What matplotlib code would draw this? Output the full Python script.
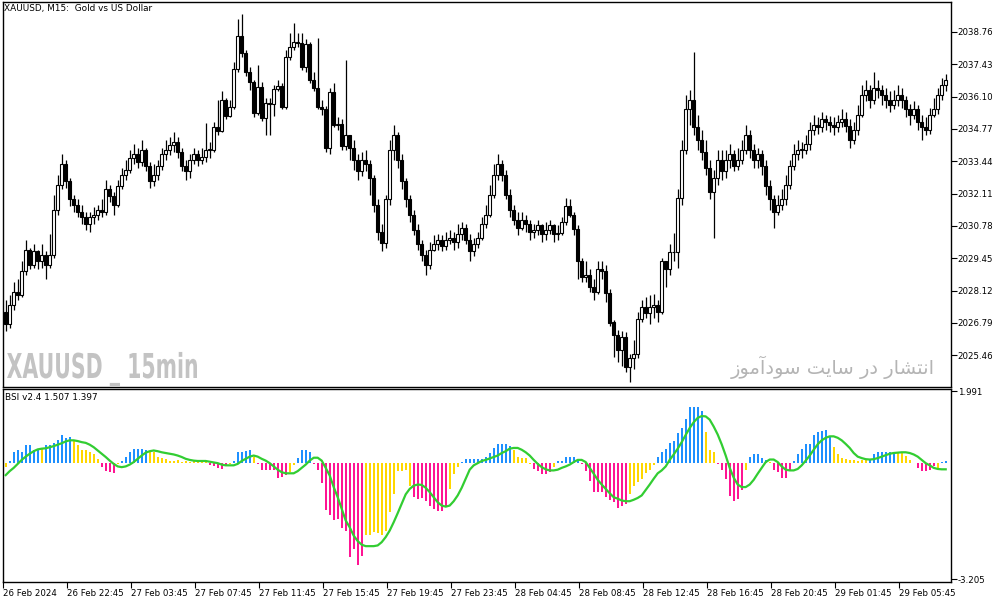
import matplotlib
matplotlib.use('Agg')
import matplotlib.pyplot as plt
from matplotlib.patches import Rectangle, PathPatch
from matplotlib.textpath import TextPath
from matplotlib.font_manager import FontProperties
from matplotlib.transforms import Affine2D, IdentityTransform

# ---- price data (XAUUSD M15), 236 candles ----
opens = [
    2027.26, 2026.73, 2027.55, 2028.08, 2027.96, 2028.91, 2029.81, 2029.19, 2029.73, 2029.32,
    2029.60, 2029.19, 2029.60, 2031.45, 2032.48, 2033.31, 2032.61, 2031.87, 2031.66, 2031.37,
    2031.13, 2030.88, 2031.13, 2031.25, 2031.45, 2031.37, 2032.28, 2032.03, 2031.66, 2032.44,
    2032.89, 2033.10, 2033.59, 2033.72, 2033.43, 2033.92, 2033.26, 2032.61, 2032.89, 2033.26,
    2033.72, 2033.92, 2034.09, 2034.25, 2033.84, 2033.26, 2033.02, 2033.51, 2033.72, 2033.51,
    2033.63, 2033.92, 2033.92, 2034.83, 2034.70, 2035.98, 2035.32, 2035.69, 2037.25, 2038.61,
    2037.91, 2037.13, 2036.68, 2035.44, 2036.51, 2035.20, 2035.85, 2035.81, 2036.43, 2036.55,
    2035.69, 2037.71, 2038.12, 2038.36, 2038.32, 2037.33, 2038.28, 2036.80, 2036.47, 2035.69,
    2035.57, 2034.00, 2036.27, 2034.95, 2034.99, 2034.05, 2034.50, 2034.00, 2033.51, 2033.02,
    2033.51, 2033.31, 2032.77, 2031.66, 2030.55, 2030.06, 2031.87, 2033.92, 2034.54, 2033.51,
    2032.61, 2031.87, 2031.25, 2030.63, 2030.02, 2029.60, 2029.19, 2029.81, 2030.02, 2030.22,
    2029.97, 2030.22, 2030.30, 2030.10, 2030.43, 2030.71, 2030.22, 2029.73, 2030.02, 2030.30,
    2030.84, 2031.25, 2032.07, 2032.89, 2033.31, 2032.89, 2032.07, 2031.45, 2031.04, 2030.71,
    2031.04, 2030.84, 2030.55, 2030.63, 2030.80, 2030.43, 2030.63, 2030.80, 2030.43, 2030.47,
    2030.96, 2031.62, 2031.25, 2030.67, 2029.32, 2028.70, 2028.78, 2028.29, 2028.08, 2028.99,
    2028.91, 2028.04, 2026.81, 2026.31, 2025.66, 2026.23, 2024.96, 2025.37, 2025.53, 2026.97,
    2027.43, 2027.22, 2027.43, 2027.55, 2027.26, 2029.32, 2028.99, 2029.69, 2029.69, 2031.95,
    2033.92, 2035.57, 2035.98, 2034.83, 2034.33, 2033.84, 2033.18, 2032.19, 2032.77, 2033.51,
    2033.02, 2033.51, 2033.72, 2033.26, 2033.51, 2033.92, 2034.54, 2033.92, 2033.51, 2033.72,
    2033.26, 2032.44, 2031.87, 2031.37, 2031.66, 2031.87, 2032.48, 2033.26, 2033.72, 2033.92,
    2033.92, 2034.13, 2034.74, 2034.95, 2034.83, 2035.16, 2035.07, 2034.95, 2034.83, 2035.07,
    2035.16, 2034.91, 2034.33, 2034.74, 2035.36, 2036.18, 2036.39, 2035.98, 2036.47, 2036.39,
    2036.18, 2035.98, 2035.77, 2035.98, 2036.18, 2035.98, 2035.57, 2035.36, 2035.57, 2035.07,
    2034.83, 2034.74, 2035.36, 2035.57, 2036.18, 2036.59,
]
highs = [
    2027.75, 2027.96, 2028.49, 2028.58, 2029.32, 2030.22, 2029.89, 2030.02, 2029.81, 2030.02,
    2029.73, 2030.43, 2032.07, 2032.89, 2033.72, 2033.51, 2032.77, 2032.07, 2031.87, 2031.66,
    2031.37, 2031.37, 2031.54, 2031.66, 2031.87, 2032.69, 2032.48, 2032.19, 2032.69, 2033.18,
    2033.51, 2033.92, 2034.13, 2034.00, 2034.33, 2034.00, 2033.43, 2033.31, 2033.51, 2034.00,
    2034.33, 2034.42, 2034.66, 2034.42, 2034.00, 2033.51, 2033.72, 2034.00, 2033.92, 2034.00,
    2035.03, 2034.25, 2035.07, 2035.98, 2036.31, 2036.06, 2035.98, 2037.54, 2039.27, 2039.51,
    2038.03, 2037.33, 2036.80, 2037.38, 2036.72, 2036.06, 2036.06, 2036.59, 2036.80, 2036.64,
    2038.03, 2038.73, 2039.14, 2038.73, 2038.73, 2038.45, 2038.36, 2037.13, 2038.49, 2035.98,
    2035.73, 2036.47, 2036.64, 2035.24, 2035.16, 2037.62, 2034.54, 2034.33, 2033.72, 2033.84,
    2033.92, 2033.51, 2032.89, 2031.87, 2030.84, 2032.07, 2034.33, 2034.95, 2034.66, 2033.72,
    2032.77, 2032.07, 2031.45, 2030.84, 2030.22, 2029.81, 2030.14, 2030.39, 2030.43, 2030.39,
    2030.55, 2030.63, 2030.55, 2030.84, 2030.96, 2030.84, 2030.43, 2030.30, 2030.55, 2031.13,
    2031.66, 2032.48, 2033.31, 2033.72, 2033.51, 2033.10, 2032.28, 2031.66, 2031.37, 2031.37,
    2031.25, 2031.04, 2030.88, 2031.04, 2030.88, 2030.96, 2031.04, 2030.84, 2030.80, 2031.13,
    2031.95, 2031.87, 2031.37, 2030.80, 2029.48, 2029.32, 2028.99, 2028.58, 2029.32, 2029.32,
    2029.19, 2028.17, 2026.93, 2026.52, 2026.44, 2026.40, 2025.53, 2026.11, 2027.26, 2027.75,
    2027.84, 2027.96, 2028.00, 2027.75, 2029.48, 2029.32, 2030.02, 2030.51, 2032.28, 2034.33,
    2036.18, 2036.39, 2037.95, 2035.36, 2034.74, 2034.33, 2033.51, 2033.10, 2033.92, 2033.92,
    2033.92, 2034.13, 2033.92, 2034.00, 2034.33, 2034.95, 2034.74, 2034.13, 2034.00, 2033.92,
    2033.51, 2032.69, 2032.07, 2032.07, 2032.28, 2032.89, 2033.51, 2034.13, 2034.33, 2034.25,
    2034.54, 2035.07, 2035.36, 2035.24, 2035.48, 2035.36, 2035.32, 2035.24, 2035.36, 2035.57,
    2035.48, 2035.16, 2035.07, 2035.77, 2036.59, 2036.80, 2036.59, 2037.13, 2036.80, 2036.59,
    2036.47, 2036.31, 2036.39, 2036.59, 2036.47, 2036.14, 2035.81, 2035.90, 2035.77, 2035.36,
    2035.24, 2035.65, 2036.06, 2036.47, 2036.88, 2037.01,
]
lows = [
    2026.44, 2026.60, 2027.34, 2027.75, 2027.84, 2028.78, 2028.99, 2029.07, 2028.99, 2029.07,
    2028.58, 2029.07, 2029.48, 2031.25, 2032.28, 2032.36, 2031.62, 2031.37, 2031.13, 2030.84,
    2030.63, 2030.55, 2030.88, 2031.04, 2031.13, 2031.25, 2031.78, 2031.25, 2031.54, 2032.28,
    2032.69, 2032.94, 2033.31, 2033.18, 2033.26, 2033.02, 2032.36, 2032.44, 2032.69, 2033.10,
    2033.51, 2033.68, 2033.84, 2033.59, 2033.02, 2032.69, 2032.77, 2033.31, 2033.26, 2033.31,
    2033.43, 2033.59, 2033.84, 2034.54, 2034.66, 2035.16, 2035.24, 2035.57, 2037.13, 2037.71,
    2036.96, 2036.39, 2035.28, 2035.36, 2035.11, 2034.50, 2034.54, 2035.32, 2036.31, 2035.57,
    2035.57, 2037.62, 2038.03, 2038.12, 2037.21, 2037.13, 2036.64, 2036.31, 2035.57, 2035.36,
    2033.84, 2033.72, 2034.83, 2034.74, 2033.92, 2033.92, 2033.51, 2033.10, 2032.69, 2032.85,
    2033.02, 2032.07, 2031.37, 2030.22, 2029.73, 2029.89, 2031.66, 2033.51, 2033.18, 2032.28,
    2031.54, 2030.96, 2030.39, 2029.81, 2029.32, 2028.78, 2028.99, 2029.73, 2029.81, 2029.73,
    2029.81, 2030.02, 2029.81, 2029.89, 2030.22, 2030.02, 2029.32, 2029.56, 2029.89, 2030.22,
    2030.71, 2031.13, 2031.95, 2032.69, 2032.61, 2031.87, 2031.13, 2030.80, 2030.39, 2030.63,
    2030.55, 2030.22, 2030.30, 2030.39, 2030.14, 2030.22, 2030.43, 2030.14, 2030.22, 2030.39,
    2030.80, 2031.13, 2030.39, 2028.58, 2028.49, 2028.49, 2028.08, 2027.75, 2028.00, 2028.58,
    2027.67, 2026.68, 2025.41, 2025.20, 2025.04, 2024.79, 2024.38, 2024.88, 2025.37, 2026.85,
    2027.01, 2026.73, 2027.01, 2026.85, 2027.18, 2028.29, 2028.78, 2029.32, 2029.07, 2031.66,
    2033.72, 2034.95, 2034.54, 2033.92, 2033.51, 2032.89, 2031.87, 2030.30, 2032.48, 2032.69,
    2032.77, 2033.18, 2033.02, 2033.10, 2033.31, 2033.72, 2033.59, 2033.18, 2033.18, 2032.89,
    2032.07, 2031.45, 2030.71, 2031.25, 2031.45, 2031.66, 2032.28, 2033.10, 2033.51, 2033.59,
    2033.72, 2033.92, 2034.54, 2034.58, 2034.66, 2034.74, 2034.66, 2034.50, 2034.66, 2034.83,
    2034.66, 2034.00, 2034.13, 2034.54, 2035.24, 2035.90, 2035.65, 2035.81, 2036.06, 2035.77,
    2035.65, 2035.48, 2035.57, 2035.73, 2035.65, 2035.24, 2034.95, 2035.16, 2034.74, 2034.33,
    2034.50, 2034.58, 2035.24, 2035.40, 2035.98, 2036.31,
]
closes = [
    2026.73, 2027.55, 2028.08, 2027.96, 2028.91, 2029.81, 2029.19, 2029.73, 2029.32, 2029.60,
    2029.19, 2029.60, 2031.45, 2032.48, 2033.31, 2032.61, 2031.87, 2031.66, 2031.37, 2031.13,
    2030.88, 2031.13, 2031.25, 2031.45, 2031.37, 2032.28, 2032.03, 2031.66, 2032.44, 2032.89,
    2033.10, 2033.59, 2033.72, 2033.43, 2033.92, 2033.26, 2032.61, 2032.89, 2033.26, 2033.72,
    2033.92, 2034.09, 2034.25, 2033.84, 2033.26, 2033.02, 2033.51, 2033.72, 2033.51, 2033.63,
    2033.92, 2033.92, 2034.83, 2034.70, 2035.98, 2035.32, 2035.69, 2037.25, 2038.61, 2037.91,
    2037.13, 2036.68, 2035.44, 2036.51, 2035.20, 2035.85, 2035.81, 2036.43, 2036.55, 2035.69,
    2037.71, 2038.12, 2038.36, 2038.32, 2037.33, 2038.28, 2036.80, 2036.47, 2035.69, 2035.57,
    2034.00, 2036.27, 2034.95, 2034.99, 2034.05, 2034.50, 2034.00, 2033.51, 2033.02, 2033.51,
    2033.31, 2032.77, 2031.66, 2030.55, 2030.06, 2031.87, 2033.92, 2034.54, 2033.51, 2032.61,
    2031.87, 2031.25, 2030.63, 2030.02, 2029.60, 2029.19, 2029.81, 2030.02, 2030.22, 2029.97,
    2030.22, 2030.30, 2030.10, 2030.43, 2030.71, 2030.22, 2029.73, 2030.02, 2030.30, 2030.84,
    2031.25, 2032.07, 2032.89, 2033.31, 2032.89, 2032.07, 2031.45, 2031.04, 2030.71, 2031.04,
    2030.84, 2030.55, 2030.63, 2030.80, 2030.43, 2030.63, 2030.80, 2030.43, 2030.47, 2030.96,
    2031.62, 2031.25, 2030.67, 2029.32, 2028.70, 2028.78, 2028.29, 2028.08, 2028.99, 2028.91,
    2028.04, 2026.81, 2026.31, 2025.66, 2026.23, 2024.96, 2025.37, 2025.53, 2026.97, 2027.43,
    2027.22, 2027.43, 2027.55, 2027.26, 2029.32, 2028.99, 2029.69, 2029.69, 2031.95, 2033.92,
    2035.57, 2035.98, 2034.83, 2034.33, 2033.84, 2033.18, 2032.19, 2032.77, 2033.51, 2033.02,
    2033.51, 2033.72, 2033.26, 2033.51, 2033.92, 2034.54, 2033.92, 2033.51, 2033.72, 2033.26,
    2032.44, 2031.87, 2031.37, 2031.66, 2031.87, 2032.48, 2033.26, 2033.72, 2033.92, 2033.92,
    2034.13, 2034.74, 2034.95, 2034.83, 2035.16, 2035.07, 2034.95, 2034.83, 2035.07, 2035.16,
    2034.91, 2034.33, 2034.74, 2035.36, 2036.18, 2036.39, 2035.98, 2036.47, 2036.39, 2036.18,
    2035.98, 2035.77, 2035.98, 2036.18, 2035.98, 2035.57, 2035.36, 2035.57, 2035.07, 2034.83,
    2034.74, 2035.36, 2035.57, 2036.18, 2036.59, 2036.80,
]

# ---- BSI indicator ----
bsi_hist = [
    -0.11, 0.07, 0.30, 0.35, 0.32, 0.49, 0.49, 0.35, 0.40, 0.40,
    0.49, 0.49, 0.55, 0.63, 0.79, 0.70, 0.72, 0.63, 0.49, 0.35,
    0.35, 0.32, 0.24, 0.12, -0.11, -0.22, -0.25, -0.26, -0.02, 0.07,
    0.17, 0.30, 0.38, 0.38, 0.40, 0.35, 0.30, 0.30, 0.18, 0.15,
    0.12, 0.07, 0.07, 0.09, 0.04, 0.05, 0.04, 0.05, 0.04, 0.05,
    0.02, -0.04, -0.09, -0.13, -0.16, -0.04, -0.02, 0.05, 0.30, 0.30,
    0.33, 0.37, 0.17, -0.02, -0.18, -0.18, -0.18, -0.20, -0.41, -0.39,
    -0.34, -0.25, -0.06, 0.15, 0.35, 0.37, 0.32, -0.02, -0.20, -0.55,
    -1.30, -1.44, -1.58, -1.54, -1.79, -1.86, -2.59, -2.36, -2.82, -2.55,
    -1.97, -1.97, -1.90, -1.93, -1.97, -1.88, -1.35, -0.86, -0.22, -0.22,
    -0.18, -0.62, -0.94, -1.00, -0.96, -1.05, -1.17, -1.26, -1.31, -1.31,
    -1.17, -0.71, -0.29, -0.11, 0.03, 0.12, 0.12, 0.12, 0.12, 0.12,
    0.17, 0.28, 0.42, 0.52, 0.52, 0.52, 0.46, 0.35, 0.18, 0.15,
    0.13, -0.02, -0.17, -0.22, -0.29, -0.31, -0.25, -0.11, 0.06, 0.07,
    0.18, 0.18, 0.18, 0.09, -0.02, -0.22, -0.50, -0.80, -0.80, -0.80,
    -0.94, -1.01, -1.08, -1.24, -1.19, -1.14, -0.86, -0.62, -0.52, -0.45,
    -0.28, -0.18, -0.06, 0.18, 0.30, 0.40, 0.55, 0.60, 0.84, 0.97,
    1.21, 1.56, 1.56, 1.55, 1.43, 0.86, 0.35, 0.32, -0.02, -0.18,
    -0.43, -0.92, -1.05, -0.98, -0.75, -0.20, 0.18, 0.24, 0.24, 0.15,
    0.09, 0.02, -0.18, -0.25, -0.41, -0.41, -0.18, 0.07, 0.26, 0.40,
    0.52, 0.53, 0.79, 0.86, 0.90, 0.92, 0.76, 0.44, 0.26, 0.15,
    0.12, 0.10, 0.10, 0.07, 0.09, 0.10, 0.12, 0.24, 0.30, 0.32,
    0.32, 0.32, 0.28, 0.28, 0.28, 0.21, 0.10, 0.01, -0.14, -0.22,
    -0.22, -0.20, -0.09, -0.13, 0.02, 0.07,
]
# B = rising up, Y = fading, M = falling down
bsi_state = (
    "YBBBBBBBBY" "BBBBBBBYYY" "YYYYMMMMYB" "BBBBBBYYYY" "YYYYYYYYYY"
    "YMMMMMYBBB" "BBYMMMMMMM" "MYYBBBBMMM" "MMMMMMMMMM" "YYYYYYYYYY"
    "YYMMMMMMMM" "MYYYBBBBBB" "BBBBBBBYYY" "YYMMMMMYBB" "BBBBMMMMMM"
    "MMMMMMYYYY" "YYYBBBBBBB" "BBBBBYYYMM" "MMMMMYBBBB" "BYMMMMMBBB"
    "BBBBBBBYYY" "YYYYYYBBBB" "BBBYYYYYMM" "MMMYBB"
)
bsi_signal = [
    -0.33, -0.22, -0.13, -0.02, 0.09, 0.18, 0.26, 0.33, 0.38, 0.40,
    0.41, 0.44, 0.47, 0.51, 0.55, 0.60, 0.63, 0.63, 0.61, 0.58,
    0.56, 0.51, 0.44, 0.35, 0.26, 0.17, 0.07, -0.02, -0.09, -0.11,
    -0.09, -0.04, 0.03, 0.12, 0.21, 0.29, 0.33, 0.35, 0.33, 0.30,
    0.28, 0.26, 0.24, 0.21, 0.17, 0.12, 0.09, 0.07, 0.06, 0.06,
    0.06, 0.04, 0.02, 0.00, -0.04, -0.06, -0.06, -0.06, -0.02, 0.06,
    0.12, 0.18, 0.21, 0.18, 0.12, 0.07, 0.00, -0.09, -0.18, -0.25,
    -0.28, -0.28, -0.28, -0.22, -0.13, -0.04, 0.07, 0.15, 0.15, 0.07,
    -0.13, -0.34, -0.66, -0.94, -1.26, -1.58, -1.77, -2.00, -2.15, -2.25,
    -2.29, -2.29, -2.29, -2.27, -2.18, -2.04, -1.86, -1.63, -1.38, -1.12,
    -0.86, -0.71, -0.62, -0.59, -0.60, -0.68, -0.80, -0.94, -1.08, -1.17,
    -1.20, -1.17, -1.05, -0.89, -0.68, -0.43, -0.18, -0.06, 0.00, 0.06,
    0.09, 0.13, 0.17, 0.21, 0.28, 0.33, 0.40, 0.42, 0.42, 0.37,
    0.30, 0.21, 0.09, -0.02, -0.11, -0.17, -0.20, -0.20, -0.18, -0.13,
    -0.09, -0.04, 0.03, 0.09, 0.09, 0.03, -0.13, -0.29, -0.46, -0.59,
    -0.71, -0.83, -0.94, -0.98, -1.03, -1.05, -1.05, -1.01, -0.96, -0.89,
    -0.74, -0.59, -0.43, -0.28, -0.20, -0.09, 0.09, 0.24, 0.40, 0.58,
    0.78, 0.97, 1.13, 1.25, 1.30, 1.29, 1.20, 1.01, 0.79, 0.52,
    0.21, -0.13, -0.40, -0.59, -0.66, -0.66, -0.59, -0.46, -0.29, -0.13,
    0.03, 0.10, 0.10, 0.03, -0.09, -0.18, -0.20, -0.20, -0.16, -0.06,
    0.07, 0.21, 0.37, 0.52, 0.63, 0.70, 0.74, 0.74, 0.70, 0.63,
    0.53, 0.42, 0.28, 0.18, 0.14, 0.11, 0.10, 0.11, 0.14, 0.18,
    0.22, 0.26, 0.28, 0.29, 0.30, 0.30, 0.28, 0.24, 0.18, 0.09,
    0.00, -0.06, -0.13, -0.16, -0.17, -0.17,
]

price_ticks = [2038.76, 2037.43, 2036.10, 2034.77, 2033.44, 2032.11,
               2030.78, 2029.45, 2028.12, 2026.79, 2025.46]
bsi_ticks = [1.991, -3.205]
time_labels = ['26 Feb 2024', '26 Feb 22:45', '27 Feb 03:45', '27 Feb 07:45',
               '27 Feb 11:45', '27 Feb 15:45', '27 Feb 19:45', '27 Feb 23:45',
               '28 Feb 04:45', '28 Feb 08:45', '28 Feb 12:45', '28 Feb 16:45',
               '28 Feb 20:45', '29 Feb 01:45', '29 Feb 05:45']
bars_per_label = 16

state_colors = {'B': '#1E90FF', 'Y': '#FFD700', 'M': '#FF1493'}

W, H = 1003, 603
fig = plt.figure(figsize=(W / 100, H / 100), dpi=100)
fig.patch.set_facecolor('white')

def px_axes(left, top, right, bottom):
    return fig.add_axes([left / W, 1 - bottom / H, (right - left) / W, (bottom - top) / H])

ax = px_axes(2.7, 1.5, 950.7, 386.7)
ax2 = px_axes(2.7, 389.3, 950.7, 581.7)

n = len(closes)
xs = list(range(n))
tick_font = dict(fontsize=6.2, family='DejaVu Sans')

# candles: wick + body (white = up, black = down)
ax.vlines(xs, lows, highs, color='black', linewidth=0.9, zorder=2)
for i in xs:
    o, c = opens[i], closes[i]
    lo, hi = min(o, c), max(o, c)
    face = 'white' if c >= o else 'black'
    ax.add_patch(Rectangle((i - 0.3, lo), 0.6, max(hi - lo, 0.02),
                           facecolor=face, edgecolor='black', linewidth=0.8, zorder=3))

ax.set_xlim(-0.75, 236.25)
ax.set_ylim(2024.17, 2040.01)
ax.set_xticks([])
ax.yaxis.tick_right()
ax.set_yticks(price_ticks)
ax.set_yticklabels([f'{v:.2f}' for v in price_ticks], **tick_font)
ax.tick_params(axis='y', length=4, width=0.8, pad=1, colors='black')

# BSI histogram + signal line
ax2.bar(xs, bsi_hist, width=0.5, color=[state_colors[s] for s in bsi_state], zorder=2)
ax2.plot(xs, bsi_signal, color='#32CD32', linewidth=1.6, zorder=3)
ax2.set_xlim(-0.75, 236.25)
ax2.set_ylim(-3.271, 2.038)
ax2.yaxis.tick_right()
ax2.set_yticks(bsi_ticks)
ax2.set_yticklabels([f'{v:.3f}' for v in bsi_ticks], **tick_font)
ax2.tick_params(axis='y', length=4, width=0.8, pad=1)
tick_pos = [m * bars_per_label - 0.75 for m in range(len(time_labels))]
ax2.set_xticks(tick_pos)
ax2.set_xticklabels(time_labels, ha='left', **tick_font)
ax2.tick_params(axis='x', length=4, width=0.8, pad=1)

for a in (ax, ax2):
    for s in a.spines.values():
        s.set_linewidth(1.0)
        s.set_color('black')

# texts
fig.text(4 / W, 1 - 8.3 / H, 'XAUUSD, M15:  Gold vs US Dollar', va='center', ha='left',
         fontsize=6.4, family='DejaVu Sans')
fig.text(5 / W, 1 - 398 / H, 'BSI v2.4 1.507 1.397', va='center', ha='left',
         fontsize=6.4, family='DejaVu Sans')

# condensed bold watermark: text path squeezed horizontally
wm_path = TextPath((0, 0), 'XAUUSD _ 15min', size=1,
                   prop=FontProperties(family='DejaVu Sans', weight='bold'))
ext = wm_path.get_extents()
sx = 190 / ext.width
sy = 25 / 0.729
wm_tr = Affine2D().translate(-ext.x0, 0).scale(sx, sy).translate(7, H - 378)
fig.add_artist(PathPatch(wm_path, transform=wm_tr + IdentityTransform(),
                         facecolor='#C3C3C3', edgecolor='none'))

# "انتشار در سایت سودآموز" written in presentation forms, visual order
persian = ('\ufeaf\ufeee\ufee3\ufe81\ufea9\ufeee\ufeb3 \ufe96\ufef3\ufe8e\ufeb3 '
           '\ufead\ufea9 \ufead\ufe8e\ufeb8\ufe98\ufee7\ufe8d')
fig.text(935 / W, 1 - 367 / H, persian, va='center', ha='right',
         fontsize=14, color='#B4B4B4', family='DejaVu Sans')

fig.savefig('out.png', dpi=100, facecolor='white')
